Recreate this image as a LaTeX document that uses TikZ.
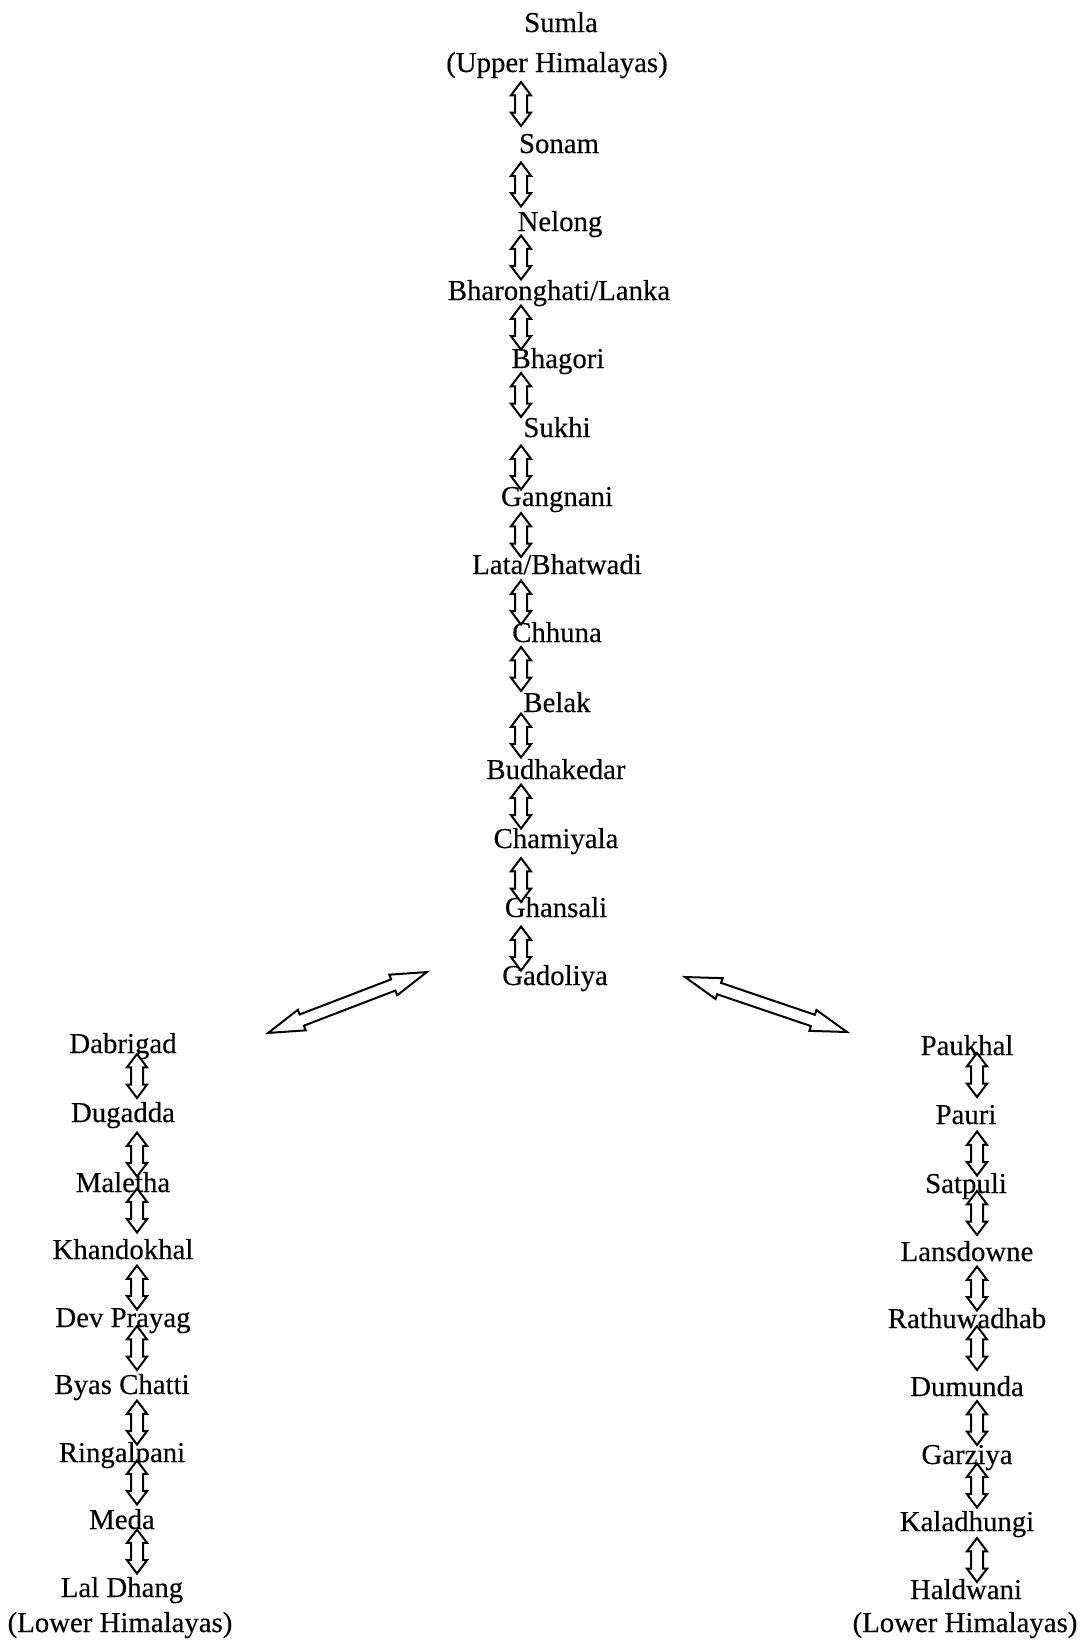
\documentclass[tikz,border=0pt]{standalone}
\usepackage{fontspec}
\setmainfont[FakeBold=0.3]{Liberation Serif}
\usetikzlibrary{shapes.arrows,calc}

\tikzset{
  place/.style={anchor=base, inner sep=0pt, font=\fontsize{28.8}{34}\selectfont},
  hollowlink/.style={draw, line width=2pt, shape=double arrow, sloped,
    inner xsep=0pt, fill=white},
  varrow/.style={hollowlink, inner ysep=5pt, double arrow head extend=4pt,
    double arrow tip angle=74, minimum height=44pt},
  darrow/.style={hollowlink, inner ysep=5pt, double arrow head extend=5pt,
    double arrow tip angle=34, minimum height=170pt},
}

% vertical hollow two-way arrow between two stations:
% #1 upper node, #2 lower node, #3 vertical offset, #4 column coordinate
\newcommand\vlink[4]{%
  \path ($(#1.base -| #4)+(0,#3)$) -- node[varrow] (#1-#2) {} ($(#2.base -| #4)+(0,#3)$);}

\begin{document}
\begin{tikzpicture}[x=1pt,y=-1pt]
\useasboundingbox (0,0) rectangle (1084,1641);

% arrow columns
\coordinate (cx) at (521,0);
\coordinate (lx) at (137,0);
\coordinate (rx) at (977,0);

% central route
\node[place] (sumla)   at (561,32)  {Sumla};
\node[place] (upper)   at (557,72)  {(Upper Himalayas)};
\node[place] (sonam)   at (559,153) {Sonam};
\node[place] (nelong)  at (560,231) {Nelong};
\node[place] (bharon)  at (559,300) {Bharonghati/Lanka};
\node[place] (bhagori) at (558,368) {Bhagori};
\node[place] (sukhi)   at (557,437) {Sukhi};
\node[place] (gangnani) at (557,506) {Gangnani};
\node[place] (lata)    at (557,574) {Lata/Bhatwadi};
\node[place] (chhuna)  at (557,642) {Chhuna};
\node[place] (belak)   at (557,712) {Belak};
\node[place] (budha)   at (556,779) {Budhakedar};
\node[place] (chami)   at (556,848) {Chamiyala};
\node[place] (ghansali) at (556,917) {Ghansali};
\node[place] (gadoliya) at (555,985) {Gadoliya};

% left route
\node[place] (dabrigad) at (123,1053) {Dabrigad};
\node[place] (dugadda)  at (123,1122) {Dugadda};
\node[place] (maletha)  at (123,1192) {Maletha};
\node[place] (khando)   at (123,1259) {Khandokhal};
\node[place] (devp)     at (123,1327) {Dev Prayag};
\node[place] (byas)     at (122,1394) {Byas Chatti};
\node[place] (ringal)   at (122,1462) {Ringalpani};
\node[place] (meda)     at (122,1529) {Meda};
\node[place] (laldhang) at (122,1597) {Lal Dhang};
\node[place] (lowerl)   at (120,1632) {(Lower Himalayas)};

% right route
\node[place] (paukhal)  at (967,1055) {Paukhal};
\node[place] (pauri)    at (966,1124) {Pauri};
\node[place] (satpuli)  at (966,1193) {Satpuli};
\node[place] (lans)     at (967,1261) {Lansdowne};
\node[place] (rathu)    at (967,1328) {Rathuwadhab};
\node[place] (dumunda)  at (967,1396) {Dumunda};
\node[place] (garziya)  at (967,1464) {Garziya};
\node[place] (kala)     at (967,1531) {Kaladhungi};
\node[place] (haldwani) at (966,1599) {Haldwani};
\node[place] (lowerr)   at (965,1632) {(Lower Himalayas)};

% central links
\vlink{upper}{sonam}{-8.5}{cx}
\vlink{sonam}{nelong}{-7.5}{cx}
\vlink{nelong}{bharon}{-8}{cx}
\vlink{bharon}{bhagori}{-6.5}{cx}
\vlink{bhagori}{sukhi}{-7.5}{cx}
\vlink{sukhi}{gangnani}{-4}{cx}
\vlink{gangnani}{lata}{-5}{cx}
\vlink{lata}{chhuna}{-5.5}{cx}
\vlink{chhuna}{belak}{-8}{cx}
\vlink{belak}{budha}{-10}{cx}
\vlink{budha}{chami}{-7}{cx}
\vlink{chami}{ghansali}{-2.5}{cx}
\vlink{ghansali}{gadoliya}{-2.5}{cx}

% left links
\vlink{dabrigad}{dugadda}{-11.5}{lx}
\vlink{dugadda}{maletha}{-2.5}{lx}
\vlink{maletha}{khando}{-15}{lx}
\vlink{khando}{devp}{-5.5}{lx}
\vlink{devp}{byas}{-12.5}{lx}
\vlink{byas}{ringal}{-5.5}{lx}
\vlink{ringal}{meda}{-13}{lx}
\vlink{meda}{laldhang}{-11.5}{lx}

% right links
\vlink{paukhal}{pauri}{-14.5}{rx}
\vlink{pauri}{satpuli}{-5}{rx}
\vlink{satpuli}{lans}{-14}{rx}
\vlink{lans}{rathu}{-6}{rx}
\vlink{rathu}{dumunda}{-14}{rx}
\vlink{dumunda}{garziya}{-7}{rx}
\vlink{garziya}{kala}{-12}{rx}
\vlink{kala}{haldwani}{-5}{rx}

% branch arrows
\coordinate (wl) at (268,1033);
\coordinate (wr) at (427,972);
\coordinate (el) at (685,977);
\coordinate (er) at (847,1032);
\path (wl) -- node[darrow] (westbranch) {} (wr);
\path (el) -- node[darrow, minimum height=171pt] (eastbranch) {} (er);
\end{tikzpicture}
\end{document}
